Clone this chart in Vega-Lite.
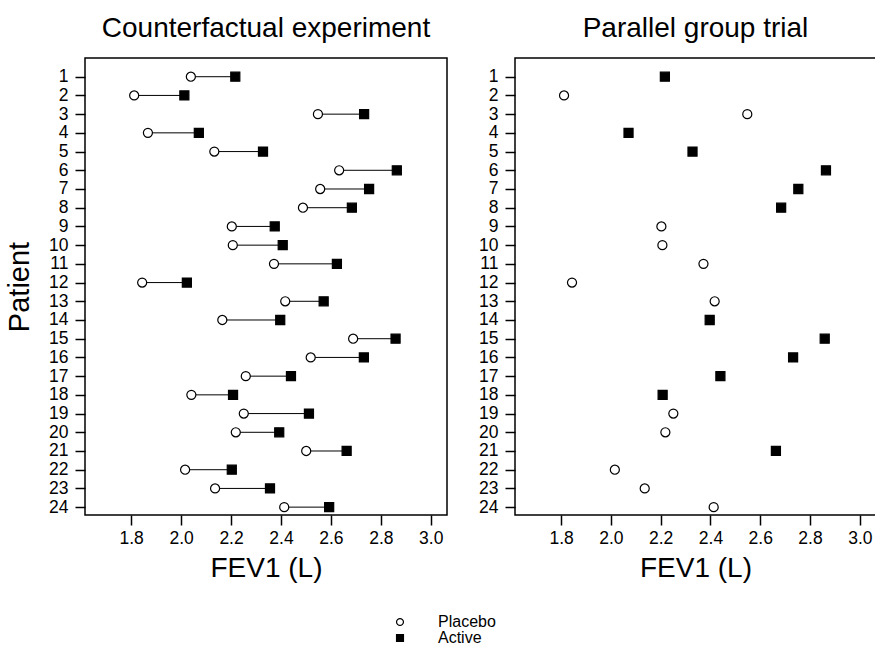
{
  "$schema": "https://vega.github.io/schema/vega-lite/v6.json",
  "padding": {"left": 4, "top": 14, "right": 0, "bottom": 0},
  "background": "white",
  "config": {
    "font": "Liberation Sans",
    "view": {"stroke": "black", "strokeWidth": 1.5},
    "axis": {"domain": false, "grid": false, "tickColor": "black", "tickWidth": 1.5, "tickSize": 10, "labelColor": "black", "labelFontSize": 17.5, "labelFont": "Liberation Sans", "titleFont": "Liberation Sans", "titleFontWeight": "normal", "titleColor": "black"},
    "title": {"fontSize": 28, "fontWeight": "normal", "anchor": "middle", "offset": 15, "color": "black", "font": "Liberation Sans"}
  },
  "datasets": {
    "fev": [
      {"patient": 1, "arm": "Placebo", "fev1": 2.039, "parallel": false},
      {"patient": 1, "arm": "Active", "fev1": 2.217, "parallel": true},
      {"patient": 2, "arm": "Placebo", "fev1": 1.812, "parallel": true},
      {"patient": 2, "arm": "Active", "fev1": 2.013, "parallel": false},
      {"patient": 3, "arm": "Placebo", "fev1": 2.548, "parallel": true},
      {"patient": 3, "arm": "Active", "fev1": 2.733, "parallel": false},
      {"patient": 4, "arm": "Placebo", "fev1": 1.867, "parallel": false},
      {"patient": 4, "arm": "Active", "fev1": 2.071, "parallel": true},
      {"patient": 5, "arm": "Placebo", "fev1": 2.133, "parallel": false},
      {"patient": 5, "arm": "Active", "fev1": 2.328, "parallel": true},
      {"patient": 6, "arm": "Placebo", "fev1": 2.633, "parallel": false},
      {"patient": 6, "arm": "Active", "fev1": 2.864, "parallel": true},
      {"patient": 7, "arm": "Placebo", "fev1": 2.557, "parallel": false},
      {"patient": 7, "arm": "Active", "fev1": 2.753, "parallel": true},
      {"patient": 8, "arm": "Placebo", "fev1": 2.488, "parallel": false},
      {"patient": 8, "arm": "Active", "fev1": 2.684, "parallel": true},
      {"patient": 9, "arm": "Placebo", "fev1": 2.203, "parallel": true},
      {"patient": 9, "arm": "Active", "fev1": 2.375, "parallel": false},
      {"patient": 10, "arm": "Placebo", "fev1": 2.207, "parallel": true},
      {"patient": 10, "arm": "Active", "fev1": 2.407, "parallel": false},
      {"patient": 11, "arm": "Placebo", "fev1": 2.372, "parallel": true},
      {"patient": 11, "arm": "Active", "fev1": 2.624, "parallel": false},
      {"patient": 12, "arm": "Placebo", "fev1": 1.844, "parallel": true},
      {"patient": 12, "arm": "Active", "fev1": 2.023, "parallel": false},
      {"patient": 13, "arm": "Placebo", "fev1": 2.417, "parallel": true},
      {"patient": 13, "arm": "Active", "fev1": 2.571, "parallel": false},
      {"patient": 14, "arm": "Placebo", "fev1": 2.165, "parallel": false},
      {"patient": 14, "arm": "Active", "fev1": 2.397, "parallel": true},
      {"patient": 15, "arm": "Placebo", "fev1": 2.689, "parallel": false},
      {"patient": 15, "arm": "Active", "fev1": 2.859, "parallel": true},
      {"patient": 16, "arm": "Placebo", "fev1": 2.519, "parallel": false},
      {"patient": 16, "arm": "Active", "fev1": 2.732, "parallel": true},
      {"patient": 17, "arm": "Placebo", "fev1": 2.259, "parallel": false},
      {"patient": 17, "arm": "Active", "fev1": 2.44, "parallel": true},
      {"patient": 18, "arm": "Placebo", "fev1": 2.041, "parallel": false},
      {"patient": 18, "arm": "Active", "fev1": 2.208, "parallel": true},
      {"patient": 19, "arm": "Placebo", "fev1": 2.251, "parallel": true},
      {"patient": 19, "arm": "Active", "fev1": 2.512, "parallel": false},
      {"patient": 20, "arm": "Placebo", "fev1": 2.219, "parallel": true},
      {"patient": 20, "arm": "Active", "fev1": 2.393, "parallel": false},
      {"patient": 21, "arm": "Placebo", "fev1": 2.501, "parallel": false},
      {"patient": 21, "arm": "Active", "fev1": 2.663, "parallel": true},
      {"patient": 22, "arm": "Placebo", "fev1": 2.016, "parallel": true},
      {"patient": 22, "arm": "Active", "fev1": 2.203, "parallel": false},
      {"patient": 23, "arm": "Placebo", "fev1": 2.136, "parallel": true},
      {"patient": 23, "arm": "Active", "fev1": 2.356, "parallel": false},
      {"patient": 24, "arm": "Placebo", "fev1": 2.413, "parallel": true},
      {"patient": 24, "arm": "Active", "fev1": 2.593, "parallel": false}
    ]
  },
  "hconcat": [
    {
      "width": 362,
      "height": 457,
      "title": "Counterfactual experiment",
      "data": {"name": "fev"},
      "encoding": {
        "x": {"field": "fev1", "type": "quantitative", "scale": {"domain": [1.615, 3.065], "nice": false, "zero": false}, "axis": {"values": [1.8, 2.0, 2.2, 2.4, 2.6, 2.8, 3.0], "format": ".1f", "title": "FEV1 (L)", "titleFontSize": 28, "titlePadding": 8, "labelPadding": 4}},
        "y": {"field": "patient", "type": "quantitative", "scale": {"domain": [0, 24.42], "reverse": true, "nice": false, "zero": false}, "axis": {"values": [1,2,3,4,5,6,7,8,9,10,11,12,13,14,15,16,17,18,19,20,21,22,23,24], "title": "Patient", "titleFontSize": 29, "titlePadding": 14, "labelPadding": 7, "labelOverlap": false, "labelFlush": false}}
      },
      "layer": [
        {"mark": {"type": "line", "color": "black", "strokeWidth": 1}, "encoding": {"detail": {"field": "patient", "type": "nominal"}}},
        {"mark": {"type": "point", "filled": true, "stroke": "black", "strokeWidth": 1.2, "opacity": 1, "size": 82},
         "encoding": {
           "shape": {"field": "arm", "type": "nominal", "scale": {"domain": ["Placebo", "Active"], "range": ["circle", "square"]}, "legend": {"title": null, "orient": "none", "legendX": 307, "legendY": 556, "direction": "vertical", "symbolSize": 48, "symbolStrokeWidth": 1.2, "labelFontSize": 16, "labelColor": "black", "labelFont": "Liberation Sans", "labelOffset": 30, "rowPadding": 0, "padding": 0}},
           "fill": {"field": "arm", "type": "nominal", "scale": {"domain": ["Placebo", "Active"], "range": ["white", "black"]}, "legend": {"title": null, "orient": "none", "legendX": 307, "legendY": 556, "direction": "vertical", "symbolSize": 48, "symbolStrokeWidth": 1.2, "labelFontSize": 16, "labelColor": "black", "labelFont": "Liberation Sans", "labelOffset": 30, "rowPadding": 0, "padding": 0}},
           "stroke": {"field": "arm", "type": "nominal", "scale": {"domain": ["Placebo", "Active"], "range": ["black", "black"]}, "legend": {"title": null, "orient": "none", "legendX": 307, "legendY": 556, "direction": "vertical", "symbolSize": 48, "symbolStrokeWidth": 1.2, "labelFontSize": 16, "labelColor": "black", "labelFont": "Liberation Sans", "labelOffset": 30, "rowPadding": 0, "padding": 0}}
         }}
      ]
    },
    {
      "width": 361,
      "height": 457,
      "title": "Parallel group trial",
      "data": {"name": "fev"},
      "transform": [{"filter": "datum.parallel"}],
      "mark": {"type": "point", "filled": true, "stroke": "black", "strokeWidth": 1.2, "opacity": 1, "size": 82},
      "encoding": {
        "x": {"field": "fev1", "type": "quantitative", "scale": {"domain": [1.615, 3.065], "nice": false, "zero": false}, "axis": {"values": [1.8, 2.0, 2.2, 2.4, 2.6, 2.8, 3.0], "format": ".1f", "title": "FEV1 (L)", "titleFontSize": 28, "titlePadding": 8, "labelPadding": 4}},
        "y": {"field": "patient", "type": "quantitative", "scale": {"domain": [0, 24.42], "reverse": true, "nice": false, "zero": false}, "axis": {"values": [1,2,3,4,5,6,7,8,9,10,11,12,13,14,15,16,17,18,19,20,21,22,23,24], "title": null, "labelPadding": 7, "labelOverlap": false, "labelFlush": false}},
        "shape": {"field": "arm", "type": "nominal", "scale": {"domain": ["Placebo", "Active"], "range": ["circle", "square"]}, "legend": {"title": null, "orient": "none", "legendX": 307, "legendY": 556, "direction": "vertical", "symbolSize": 48, "symbolStrokeWidth": 1.2, "labelFontSize": 16, "labelColor": "black", "labelFont": "Liberation Sans", "labelOffset": 30, "rowPadding": 0, "padding": 0}},
        "fill": {"field": "arm", "type": "nominal", "scale": {"domain": ["Placebo", "Active"], "range": ["white", "black"]}, "legend": {"title": null, "orient": "none", "legendX": 307, "legendY": 556, "direction": "vertical", "symbolSize": 48, "symbolStrokeWidth": 1.2, "labelFontSize": 16, "labelColor": "black", "labelFont": "Liberation Sans", "labelOffset": 30, "rowPadding": 0, "padding": 0}},
        "stroke": {"field": "arm", "type": "nominal", "scale": {"domain": ["Placebo", "Active"], "range": ["black", "black"]}, "legend": {"title": null, "orient": "none", "legendX": 307, "legendY": 556, "direction": "vertical", "symbolSize": 48, "symbolStrokeWidth": 1.2, "labelFontSize": 16, "labelColor": "black", "labelFont": "Liberation Sans", "labelOffset": 30, "rowPadding": 0, "padding": 0}}
      }
    }
  ],
  "spacing": 29
}
